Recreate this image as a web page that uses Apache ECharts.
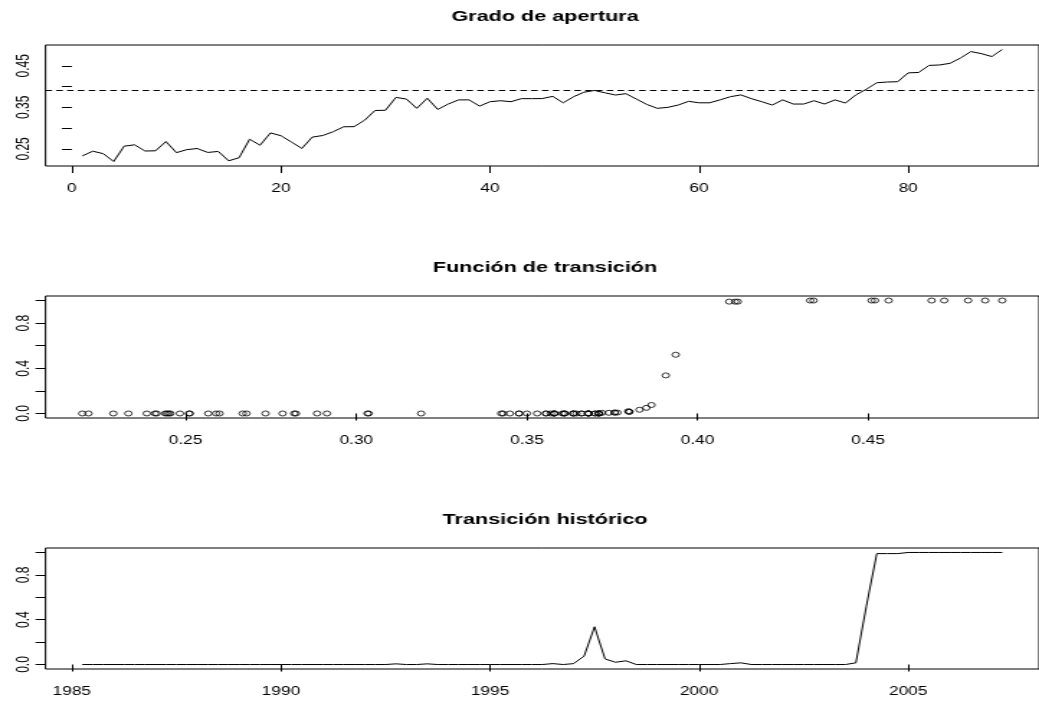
<!DOCTYPE html>
<html>
<head>
<meta charset="utf-8">
<script src="https://cdn.jsdelivr.net/npm/echarts@6/dist/echarts.min.js"></script>
<style>
  html, body { margin: 0; padding: 0; background: #fff; overflow: hidden; }
  #wrap { width: 1039px; height: 702px; overflow: hidden; position: relative; }
  #chart { width: 722px; height: 702px; transform: scaleX(1.4391); transform-origin: 0 0; }
</style>
</head>
<body>
<div id="wrap"><div id="chart"></div></div>
<script>
// ---- Data ----
const titulos = ["Grado de apertura", "Función de transición", "Transición histórico"];

// Grado de apertura, observations 1..89 (quarterly, 1985 Q2 .. 2007 Q2)
const apertura = [
  0.2332, 0.2445, 0.2386, 0.2197, 0.2566, 0.2599, 0.2450, 0.2455, 0.2678, 0.2410,
  0.2483, 0.2510, 0.2415, 0.2440, 0.2215, 0.2288, 0.2734, 0.2589, 0.2885, 0.2818,
  0.2667, 0.2512, 0.2784, 0.2823, 0.2914, 0.3033, 0.3036, 0.3190, 0.3425, 0.3430,
  0.3740, 0.3700, 0.3477, 0.3720, 0.3450, 0.3580, 0.3680, 0.3680, 0.3530, 0.3636,
  0.3660, 0.3636, 0.3710, 0.3710, 0.3712, 0.3765, 0.3610, 0.3757, 0.3865, 0.3907,
  0.3850, 0.3797, 0.3830, 0.3700, 0.3570, 0.3477, 0.3500, 0.3556, 0.3645, 0.3610,
  0.3610, 0.3680, 0.3757, 0.3800, 0.3710, 0.3636, 0.3556, 0.3680, 0.3580, 0.3580,
  0.3660, 0.3580, 0.3680, 0.3604, 0.3800, 0.3936, 0.4093, 0.4110, 0.4118, 0.4330,
  0.4340, 0.4510, 0.4520, 0.4560, 0.4686, 0.4843, 0.4793, 0.4723, 0.4893
];

// Transition function value for each observation
const transicion = [
  0, 0, 0, 0, 0, 0, 0, 0, 0, 0,
  0, 0, 0, 0, 0, 0, 0, 0, 0, 0,
  0, 0, 0, 0, 0, 0, 0, 0, 0, 0,
  0.006, 0, 0, 0.006, 0, 0, 0, 0, 0, 0,
  0, 0, 0, 0, 0, 0.008, 0, 0.008, 0.075, 0.337,
  0.05, 0.02, 0.033, 0, 0, 0, 0, 0, 0, 0,
  0, 0, 0.008, 0.015, 0, 0, 0, 0, 0, 0,
  0, 0, 0, 0, 0.015, 0.52, 0.99, 0.99, 0.99, 1.0,
  1.0, 1.0, 1.0, 1.0, 1.0, 1.0, 1.0, 1.0, 1.0
];

const umbral = 0.394;          // dashed reference line
const inicio = 1985.25;        // first quarter of the series
const frecuencia = 4;          // quarterly

// Tick values / labels
const ticksIndice = [0, 20, 40, 60, 80];
const ticksApertY = [0.25, 0.30, 0.35, 0.40, 0.45];
const labelsApertY = [0.25, 0.35, 0.45];
const ticksApertX = [0.25, 0.30, 0.35, 0.40, 0.45];
const ticksG = [0, 0.2, 0.4, 0.6, 0.8, 1.0];
const labelsG = [0, 0.4, 0.8];
const ticksAnios = [1985, 1990, 1995, 2000, 2005];

// ---- Build ----
const S = 1039 / 722;   // horizontal stretch of the reference
const px = v => v / S;

function rango(arr) {
  const mn = Math.min(...arr), mx = Math.max(...arr);
  const e = (mx - mn) * 0.04;
  return [mn - e, mx + e];
}

const indices = apertura.map((_, i) => i + 1);
const tiempos = apertura.map((_, i) => inicio + i / frecuencia);

const serieApertura = apertura.map((v, i) => [indices[i], v]);
const serieScatter = apertura.map((v, i) => [v, transicion[i]]);
const serieHist = transicion.map((v, i) => [tiempos[i], v]);

const rIdx = rango(indices), rAp = rango(apertura), rG = rango(transicion), rT = rango(tiempos);

const FONT = 'Liberation Sans, Arial, sans-serif';
const gridLeft = px(45.5), gridWidth = px(1000);

function xAxis(gi, r, ticks, fmt) {
  return {
    type: 'value', gridIndex: gi, min: r[0], max: r[1],
    splitLine: { show: false },
    axisLine: { show: false },
    axisTick: { show: true, inside: false, length: 7, customValues: ticks, lineStyle: { color: '#000', width: 1 } },
    axisLabel: { show: true, customValues: ticks, formatter: fmt, margin: 17, color: '#000', fontSize: 12, fontFamily: FONT }
  };
}
function yAxis(gi, r, ticks, labels, fmt) {
  return {
    type: 'value', gridIndex: gi, min: r[0], max: r[1],
    splitLine: { show: false },
    axisLine: { show: false },
    axisTick: { show: true, inside: false, length: px(10), customValues: ticks, lineStyle: { color: '#000', width: 1 } },
    axisLabel: { show: true, customValues: labels, formatter: fmt, rotate: 90, margin: px(13), color: '#000', fontSize: 12, fontFamily: FONT }
  };
}

const gridTops = [45, 296, 548];
const gridHeights = [121, 122, 121];

const option = {
  animation: false,
  backgroundColor: '#fff',
  title: titulos.map((t, k) => ({
    text: t, left: px(545), top: gridTops[k] - 36, textAlign: 'center', padding: 0,
    textStyle: { fontFamily: FONT, fontWeight: 'bold', fontSize: 15, color: '#000' }
  })),
  grid: gridTops.map((t, k) => ({
    left: gridLeft, top: t, width: gridWidth, height: gridHeights[k],
    show: true, borderColor: '#000', borderWidth: 1, backgroundColor: 'transparent', containLabel: false
  })),
  xAxis: [
    xAxis(0, rIdx, ticksIndice, v => String(Math.round(v))),
    xAxis(1, rAp, ticksApertX, v => v.toFixed(2)),
    xAxis(2, rT, ticksAnios, v => String(Math.round(v)))
  ],
  yAxis: [
    yAxis(0, rAp, ticksApertY, labelsApertY, v => v.toFixed(2)),
    yAxis(1, rG, ticksG, labelsG, v => v.toFixed(1)),
    yAxis(2, rG, ticksG, labelsG, v => v.toFixed(1))
  ],
  series: [
    {
      type: 'line', xAxisIndex: 0, yAxisIndex: 0, data: serieApertura,
      symbol: 'none', lineStyle: { color: '#000', width: 1 },
      markLine: {
        silent: true, symbol: ['none', 'none'], label: { show: false },
        lineStyle: { color: '#000', width: 1, type: [4.5, 3] },
        data: [{ yAxis: umbral }]
      }
    },
    {
      type: 'scatter', xAxisIndex: 1, yAxisIndex: 1, data: serieScatter,
      symbol: 'circle', symbolSize: 5,
      itemStyle: { color: 'rgba(0,0,0,0)', borderColor: '#000', borderWidth: 1 }
    },
    {
      type: 'line', xAxisIndex: 2, yAxisIndex: 2, data: serieHist,
      symbol: 'none', lineStyle: { color: '#000', width: 1 }
    }
  ]
};

const chart = echarts.init(document.getElementById('chart'), null, { renderer: 'canvas' });
chart.setOption(option);
</script>
</body>
</html>
